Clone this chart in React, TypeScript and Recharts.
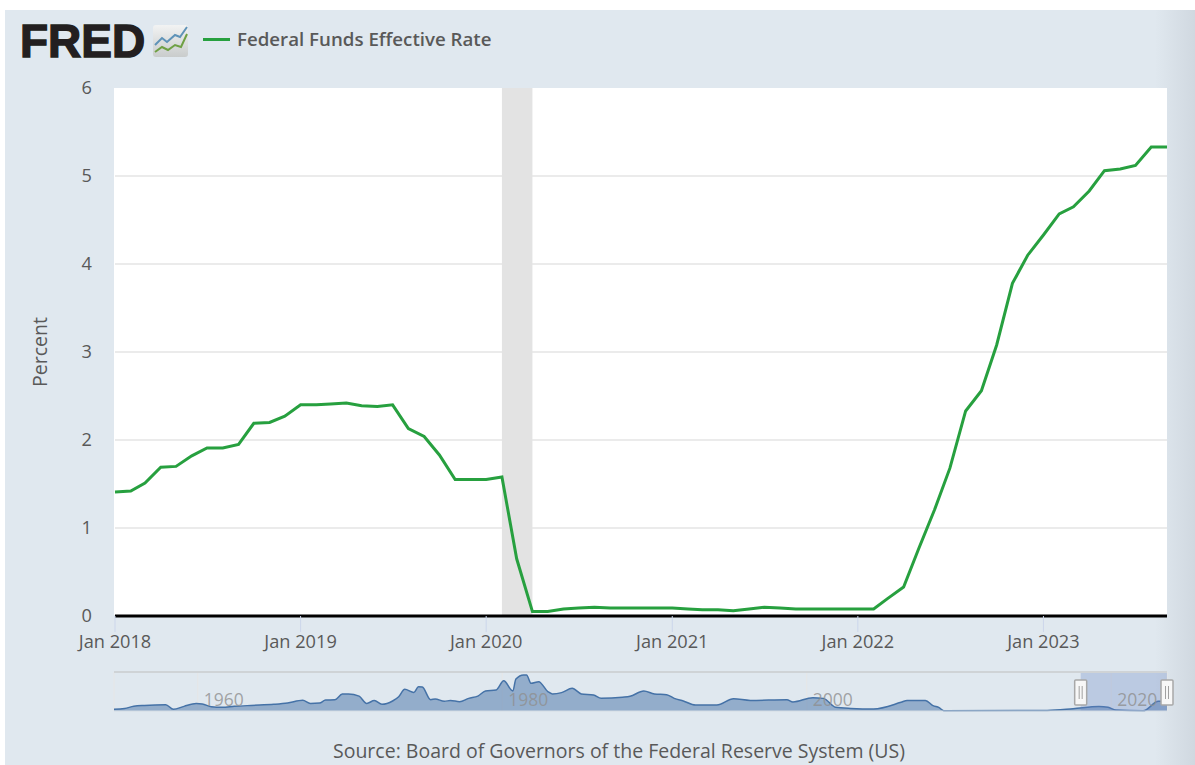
import { AreaChart, Area, LineChart, Line, XAxis, YAxis, CartesianGrid, ReferenceArea, ReferenceLine } from 'recharts';

const FONT = '"Open Sans", sans-serif';
const TEXT = '#595959';

const seriesName = 'Federal Funds Effective Rate';
const sourceNote = 'Source: Board of Governors of the Federal Reserve System (US)';

const months = [
  '2018-01', '2018-02', '2018-03', '2018-04', '2018-05', '2018-06', '2018-07', '2018-08', '2018-09', '2018-10', '2018-11', '2018-12',
  '2019-01', '2019-02', '2019-03', '2019-04', '2019-05', '2019-06', '2019-07', '2019-08', '2019-09', '2019-10', '2019-11', '2019-12',
  '2020-01', '2020-02', '2020-03', '2020-04', '2020-05', '2020-06', '2020-07', '2020-08', '2020-09', '2020-10', '2020-11', '2020-12',
  '2021-01', '2021-02', '2021-03', '2021-04', '2021-05', '2021-06', '2021-07', '2021-08', '2021-09', '2021-10', '2021-11', '2021-12',
  '2022-01', '2022-02', '2022-03', '2022-04', '2022-05', '2022-06', '2022-07', '2022-08', '2022-09', '2022-10', '2022-11', '2022-12',
  '2023-01', '2023-02', '2023-03', '2023-04', '2023-05', '2023-06', '2023-07', '2023-08', '2023-09',
];
const rates = [
  1.41, 1.42, 1.51, 1.69, 1.7, 1.82, 1.91, 1.91, 1.95, 2.19, 2.2, 2.27,
  2.4, 2.4, 2.41, 2.42, 2.39, 2.38, 2.4, 2.13, 2.04, 1.83, 1.55, 1.55,
  1.55, 1.58, 0.65, 0.05, 0.05, 0.08, 0.09, 0.1, 0.09, 0.09, 0.09, 0.09,
  0.09, 0.08, 0.07, 0.07, 0.06, 0.08, 0.1, 0.09, 0.08, 0.08, 0.08, 0.08,
  0.08, 0.08, 0.2, 0.33, 0.77, 1.21, 1.68, 2.33, 2.56, 3.08, 3.78, 4.1,
  4.33, 4.57, 4.65, 4.83, 5.06, 5.08, 5.12, 5.33, 5.33,
];
const yTicks = [0, 1, 2, 3, 4, 5, 6];
const gridLevels = [1, 2, 3, 4, 5];
const xTickMonths = ['2018-01', '2019-01', '2020-01', '2021-01', '2022-01', '2023-01'];
const recession = ['2020-02', '2020-04'];

// overview strip, full history
const navYears = [
  1954.5, 1955.2, 1955.8, 1956.5, 1957.9, 1958.4, 1959.1, 1959.9, 1960.3, 1960.9, 1961.6, 1962.4, 1963.5, 1965, 1965.9, 1966.9,
  1967.4, 1968, 1968.4, 1969, 1969.5, 1969.9, 1970.6, 1971.1, 1971.6, 1972.1, 1972.8, 1973.2, 1973.6, 1974.2, 1974.5, 1974.75,
  1975.3, 1975.6, 1976.2, 1976.6, 1977.2, 1977.8, 1978.4, 1978.9, 1979.6, 1980.1, 1980.7, 1980.9, 1981.4, 1981.6, 1981.9, 1982.4,
  1983, 1983.3, 1983.9, 1984.6, 1985.2, 1986, 1986.5, 1987.9, 1988.4, 1989.3, 1990, 1990.8, 1991.3, 1991.9, 1992.7, 1994.1,
  1995.2, 1996.3, 1998.7, 1999.1, 2000.4, 2001.1, 2001.9, 2002.9, 2004.4, 2006.2, 2006.6, 2007.8, 2008.3, 2008.7, 2009, 2015.8,
  2017.5, 2019.2, 2019.8, 2020.3, 2022.1, 2023.1, 2023.67,
];
const navValues = [
  0.9, 1.4, 2.5, 3, 3.4, 0.9, 2.5, 4, 3.8, 2.3, 2, 2.5, 3, 3.6, 4.3, 5.8,
  4.1, 4.3, 5.9, 6, 9.1, 9.2, 8, 4.1, 5.6, 3.6, 5.4, 7.7, 11.7, 10, 13.1, 12.9,
  6.1, 6.5, 5.2, 5.7, 5, 6.8, 8, 10.8, 11.3, 16.3, 10.8, 17.2, 19.4, 19.4, 14.9, 15.8,
  10.4, 9.2, 9.9, 12.2, 9.2, 8.6, 6.8, 7.4, 7.9, 10.8, 9.2, 8.8, 6.8, 5.4, 3.2, 3.2,
  6.6, 5.7, 6.1, 4.9, 7.2, 6.8, 2, 1.4, 1.1, 4.7, 5.7, 5.7, 2.9, 1.8, 0.2, 0.3,
  1.2, 2.4, 2, 0.5, 0.1, 5.2, 5.3,
];
const navTicks = [1960, 1980, 2000, 2020];
const navSelection = [2018, 2023.67];

const toTime = (m: string) => Date.parse(`${m}-01T00:00:00Z`);

const rateData = months.map((m, i) => ({ time: toTime(m), rate: rates[i] }));
const navData = navYears.map((y, i) => ({ year: y, value: navValues[i] }));

const NavTick = ({ x, payload }: any) => (
  <text x={x + 6} y={41} fill="#8f8f8f" fillOpacity={0.8} fontFamily={FONT} fontSize={17.5}>
    {payload.value}
  </text>
);

const NavHandle = ({ x1 }: any) => (
  <g>
    <rect x={x1 - 6} y={15} width={12} height={25} fill="#f7f7f7" stroke="#a8a8a8" strokeWidth={1.5} rx={1} />
    <line x1={x1 - 1.5} x2={x1 - 1.5} y1={21} y2={34} stroke="#a0a0a0" />
    <line x1={x1 + 1.5} x2={x1 + 1.5} y1={21} y2={34} stroke="#a0a0a0" />
  </g>
);

function Logo() {
  return (
    <div style={{ position: 'absolute', left: 0, top: 0 }}>
      <div style={{ position: 'absolute', left: 20, top: 15, fontFamily: '"Liberation Sans", sans-serif', fontWeight: 700, fontSize: 46, lineHeight: '52px', color: '#231f20', WebkitTextStroke: '1.4px #231f20' }}>
        FRED
      </div>
      <svg style={{ position: 'absolute', left: 153, top: 24 }} width={36} height={34}>
        <defs>
          <linearGradient id="logoBg" x1="0" y1="0" x2="0" y2="1">
            <stop offset="0" stopColor="#f2f3f3" />
            <stop offset="1" stopColor="#c9cccc" />
          </linearGradient>
        </defs>
        <rect x={0} y={1} width={35} height={32} rx={3} fill="url(#logoBg)" />
        <polyline points="2,21 9,14 14,18 22,11 27,13 34,3" fill="none" stroke="#5f93b8" strokeWidth={2} />
        <polyline points="2,28 9,23 15,26 22,21 28,23 34,10" fill="none" stroke="#6fa044" strokeWidth={2} />
      </svg>
    </div>
  );
}

export default function App() {
  return (
    <div style={{ position: 'absolute', left: 0, top: 0, width: 1195, height: 765, background: '#fff', overflow: 'hidden' }}>
      <div style={{ position: 'absolute', left: 5, top: 10, width: 1190, height: 755, background: 'linear-gradient(to right, #e0e8ef 0, #e0e8ef 1150px, #d0d8e0 1190px)' }} />
      <Logo />
      <div style={{ position: 'absolute', left: 203, top: 38, width: 27, height: 3, background: '#27a03f' }} />
      <div style={{ position: 'absolute', left: 237, top: 27, fontFamily: FONT, fontWeight: 600, fontSize: 18.7, lineHeight: '24px', color: TEXT, whiteSpace: 'nowrap' }}>
        {seriesName}
      </div>
      <div style={{ position: 'absolute', left: 114, top: 88, width: 2, height: 527, background: '#fff' }} />

      <div style={{ position: 'absolute', left: 0, top: 0 }}>
        <LineChart width={1195} height={665} data={rateData} margin={{ top: 88, right: 28, bottom: 0, left: 0 }}>
          <CartesianGrid vertical={false} horizontalValues={gridLevels} stroke="#ebebeb" strokeWidth={2} fill="#fff" />
          <XAxis
            dataKey="time"
            type="number"
            domain={[toTime(months[0]), toTime(months[months.length - 1])]}
            ticks={xTickMonths.map(toTime)}
            interval={0}
            height={49}
            tickFormatter={(t: number) => `Jan ${new Date(t).getUTCFullYear()}`}
            tick={{ fill: TEXT, fontFamily: FONT, fontSize: 18.2 }}
            tickLine={{ stroke: '#ccd6eb' }}
            tickSize={16}
            tickMargin={3}
            axisLine={false}
          />
          <YAxis
            domain={[0, 6]}
            ticks={yTicks}
            width={115}
            tick={{ fill: TEXT, fontFamily: FONT, fontSize: 18.2 }}
            tickLine={false}
            axisLine={false}
            tickMargin={17}
            label={{ value: 'Percent', angle: -90, position: 'insideLeft', offset: 40, fill: TEXT, fontFamily: FONT, fontSize: 19.5, style: { textAnchor: 'middle' } }}
          />
          <ReferenceArea x1={toTime(recession[0])} x2={toTime(recession[1])} y1={0} y2={6} fill="#e3e3e3" fillOpacity={1} stroke="none" />
          <ReferenceLine y={0} stroke="#000" strokeWidth={3} />
          <Line type="linear" dataKey="rate" stroke="#27a03f" strokeWidth={3} dot={false} activeDot={false} isAnimationActive={false} />
        </LineChart>
      </div>

      <div style={{ position: 'absolute', left: 0, top: 665 }}>
        <AreaChart width={1195} height={65} data={navData} margin={{ top: 7, right: 28, bottom: 18, left: 114 }}>
          <CartesianGrid horizontal={false} stroke="#e6e6e6" />
          <XAxis
            dataKey="year"
            type="number"
            domain={[navYears[0], navYears[navYears.length - 1]]}
            ticks={navTicks}
            interval={0}
            height={1}
            tick={<NavTick />}
            tickLine={false}
            axisLine={{ stroke: '#d3dbe3' }}
          />
          <YAxis hide domain={[0, 21]} />
          <Area type="monotone" dataKey="value" stroke="#4572a7" strokeWidth={1.5} fill="#4572a7" fillOpacity={0.5} dot={false} activeDot={false} isAnimationActive={false} />
          <ReferenceLine y={21} stroke="#cfd3d6" strokeWidth={2} />
          <ReferenceArea x1={navSelection[0]} x2={navSelection[1]} y1={0} y2={21} fill="#6685c2" fillOpacity={0.3} stroke="none" />
          <ReferenceLine x={navSelection[0]} shape={<NavHandle />} />
          <ReferenceLine x={navSelection[1]} shape={<NavHandle />} />
        </AreaChart>
      </div>

      <div style={{ position: 'absolute', left: 0, width: 1238, top: 739, textAlign: 'center', fontFamily: FONT, fontSize: 19.5, lineHeight: '24px', color: TEXT, whiteSpace: 'nowrap' }}>
        {sourceNote}
      </div>
    </div>
  );
}
